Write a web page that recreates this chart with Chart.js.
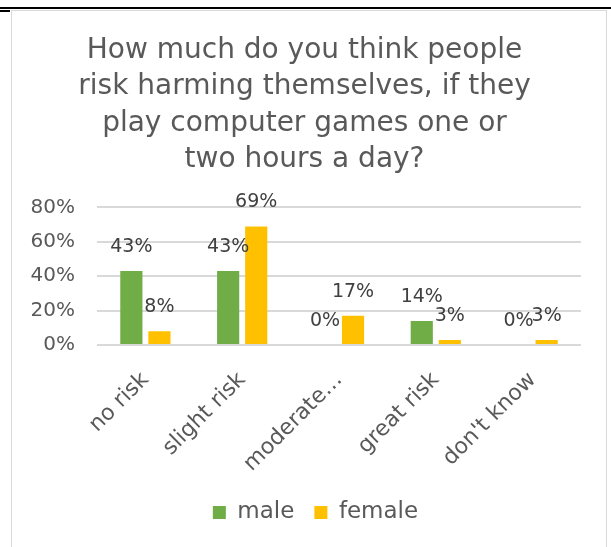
<!DOCTYPE html>
<html>
<head>
<meta charset="utf-8">
<script src="https://cdn.jsdelivr.net/npm/chart.js@4/dist/chart.umd.min.js"></script>
<style>
  body { margin: 0; background: #fff; }
  #topline { position: absolute; left: 0; top: 7px; width: 611px; height: 2px; background: #000; }
  #leftline { position: absolute; left: 0; top: 10px; width: 10px; height: 2px; background: #000; }
  #frame { position: absolute; left: 11px; top: 10px; width: 594px; height: 545px; border: 1px solid #d9d9d9; background: #fff; }
  #wrap { position: absolute; left: 0; top: 0; width: 594px; height: 537px; }
</style>
</head>
<body>
<div id="topline"></div>
<div id="leftline"></div>
<div id="frame">
  <div id="wrap"><canvas id="myBarChart"></canvas></div>
</div>
<script>
var categories = ['no risk', 'slight risk', 'moderate\u2026', 'great risk', "don't know"];
var maleValues = [43, 43, 0, 14, 0];
var femaleValues = [8, 69, 17, 3, 3];
var yTicks = [0, 20, 40, 60, 80];

var fontName = "'DejaVu Sans', sans-serif";

// labels above each bar, like the excel data labels
var barLabels = {
    id: 'barLabels',
    afterLayout: function (chart) {
        // excel centres the legend a bit to the right
        chart.legend.left += 11;
        chart.legend.right += 11;
    },
    afterDatasetsDraw: function (chart) {
        var ctx = chart.ctx;
        ctx.save();
        ctx.font = '19px ' + fontName;
        ctx.fillStyle = '#404040';
        ctx.textAlign = 'center';
        ctx.textBaseline = 'middle';
        chart.data.datasets.forEach(function (ds, i) {
            chart.getDatasetMeta(i).data.forEach(function (bar, j) {
                ctx.fillText(ds.data[j] + '%', bar.x, bar.y - 24);
            });
        });
        ctx.restore();
    }
};

var ctx = document.getElementById('myBarChart').getContext('2d');
var myBarChart = new Chart(ctx, {
    type: 'bar',
    data: {
        labels: categories,
        datasets: [{
            label: 'male',
            data: maleValues,
            backgroundColor: '#70ad47',
            barPercentage: 0.79,
            categoryPercentage: 0.58
        }, {
            label: 'female',
            data: femaleValues,
            backgroundColor: '#ffc000',
            barPercentage: 0.79,
            categoryPercentage: 0.58
        }]
    },
    options: {
        responsive: true,
        maintainAspectRatio: false,
        animation: false,
        layout: { padding: { left: 16, right: 25, top: 0, bottom: 14 } },
        plugins: {
            title: {
                display: true,
                text: ['How much do you think people', 'risk harming themselves, if they', 'play computer games one or', 'two hours a day?'],
                color: '#595959',
                font: { family: fontName, size: 28, weight: 'normal', lineHeight: 1.29 },
                padding: { top: 22, bottom: 30 }
            },
            legend: {
                position: 'bottom',
                labels: {
                    color: '#595959',
                    font: { family: fontName, size: 23 },
                    boxWidth: 13,
                    boxHeight: 13,
                    padding: 20
                }
            },
            tooltip: { enabled: false }
        },
        scales: {
            x: {
                grid: { display: false },
                border: { display: false },
                afterFit: function (axis) { axis.height -= 10; },
                ticks: {
                    color: '#595959',
                    font: { family: fontName, size: 22 },
                    maxRotation: 45,
                    minRotation: 45,
                    padding: 14
                }
            },
            y: {
                min: 0,
                max: 80,
                afterBuildTicks: function (axis) {
                    axis.ticks = yTicks.map(function (v) { return { value: v }; });
                },
                afterFit: function (axis) { axis.width = 69; },
                grid: { color: '#d9d9d9', lineWidth: 2, drawTicks: false },
                border: { display: false },
                ticks: {
                    color: '#595959',
                    font: { family: fontName, size: 20 },
                    padding: 22,
                    callback: function (v) { return v + '%'; }
                }
            }
        }
    },
    plugins: [barLabels]
});
</script>
</body>
</html>
